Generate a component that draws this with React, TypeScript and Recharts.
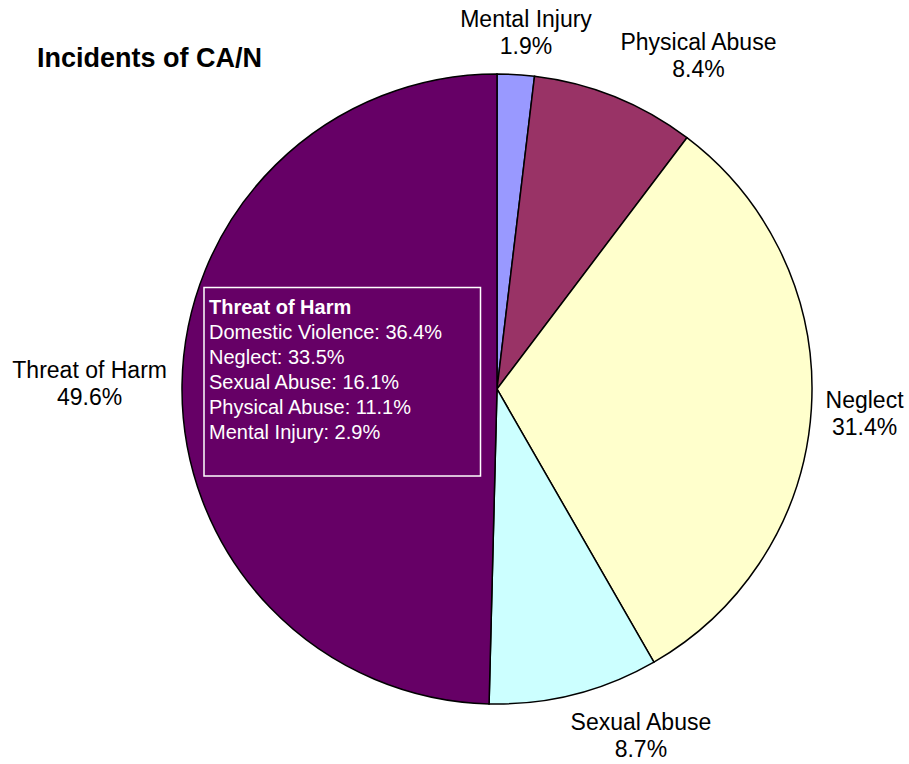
import { PieChart, Pie, Cell } from 'recharts';

const categories = ['Mental Injury', 'Physical Abuse', 'Neglect', 'Sexual Abuse', 'Threat of Harm'];
const shares = [1.9, 8.4, 31.4, 8.7, 49.6];
const sliceColors = ['#9999FF', '#993366', '#FFFFCC', '#CCFFFF', '#660066'];

// breakdown shown in the box inside the Threat of Harm slice
const threatTypes = ['Domestic Violence', 'Neglect', 'Sexual Abuse', 'Physical Abuse', 'Mental Injury'];
const threatShares = [36.4, 33.5, 16.1, 11.1, 2.9];

const FONT = '"Liberation Sans", Arial, sans-serif';
const RADIAN = Math.PI / 180;

const data = categories.map((name, i) => ({ name, value: shares[i] }));

const clamp = (v: number) => Math.max(-1, Math.min(1, v));
const push = (v: number) => clamp(Math.sign(v) * 6.7 * Math.pow(Math.abs(v), 1.4));

// outside label, pushed away from the rim like Excel does
const renderLabel = (props: any) => {
    const { cx, cy, midAngle, outerRadius, name, value } = props;
    const pct = `${value.toFixed(1)}%`;
    const cos = Math.cos(midAngle * RADIAN);
    const sin = Math.sin(midAngle * RADIAN);
    const r = outerRadius + 14;
    const ax = cx + r * cos;
    const ay = cy - r * sin;
    const w = Math.max(name.length, pct.length) * 11.2;
    const h = 56;
    const x = ax + (w / 2) * push(cos);
    const y = ay - (h / 2) * push(sin);
    return (
        <text x={x} y={y - 6} textAnchor="middle" fontSize={23} fontFamily={FONT} fill="#000">
            <tspan x={x}>{name}</tspan>
            <tspan x={x} dy={27}>{pct}</tspan>
        </text>
    );
};

export default function App() {
    return (
        <div style={{ position: 'absolute', left: 0, top: 0, background: '#fff' }}>
            <PieChart width={909} height={764} margin={{ top: 0, right: 0, bottom: 0, left: 0 }}>
                <text x={37} y={67} fontSize={27} fontWeight="bold" fontFamily={FONT} fill="#000">
                    Incidents of CA/N
                </text>
                <Pie
                    data={data}
                    dataKey="value"
                    nameKey="name"
                    cx={497}
                    cy={389}
                    outerRadius={315}
                    startAngle={90}
                    endAngle={-270}
                    stroke="#000"
                    strokeWidth={1.5}
                    label={renderLabel}
                    labelLine={false}
                    isAnimationActive={false}
                >
                    {data.map((d, i) => (
                        <Cell key={d.name} fill={sliceColors[i]} />
                    ))}
                </Pie>
            </PieChart>
            <svg width={909} height={764} style={{ position: 'absolute', left: 0, top: 0, pointerEvents: 'none' }}>
                <g fontFamily={FONT} fill="#fff">
                    <rect x={204} y={287.5} width={276.5} height={188.5} fill="none" stroke="#fff" strokeWidth={1.5} />
                    <text x={209} y={313.5} fontSize={20} fontWeight="bold">Threat of Harm</text>
                    {threatTypes.map((t, i) => (
                        <text key={t} x={209} y={339 + i * 25} fontSize={20}>
                            {`${t}: ${threatShares[i].toFixed(1)}%`}
                        </text>
                    ))}
                </g>
            </svg>
        </div>
    );
}
